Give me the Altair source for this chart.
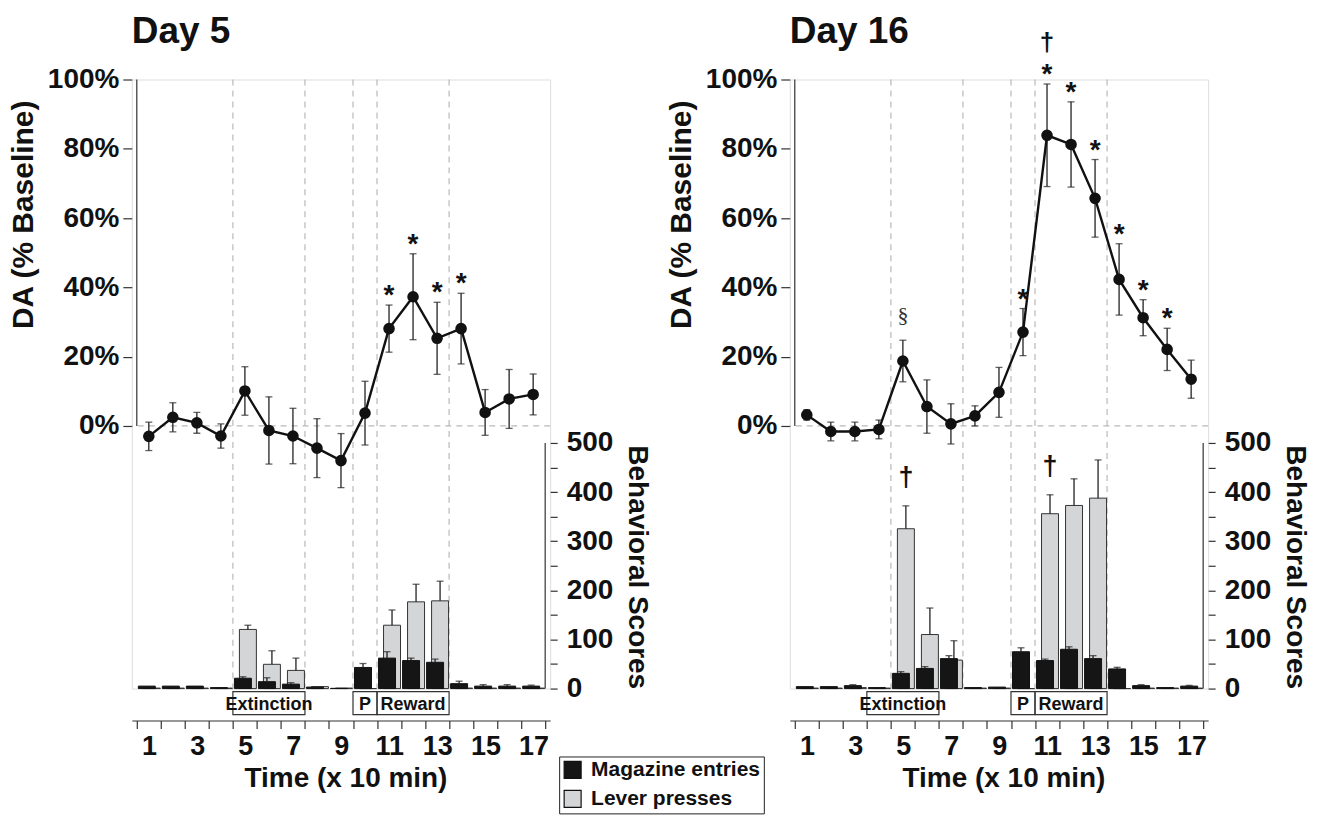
import altair as alt
import pandas as pd

FONT = "Liberation Sans"
INK = "#111111"

# ---------------- data ----------------
times = list(range(1, 18))

# DA (% baseline), mean and SEM
d5_da = [-3.0, 2.5, 0.9, -2.9, 10.1, -1.3, -2.9, -6.4, -10.0, 3.7, 28.1, 37.3, 25.3, 28.1, 3.9, 7.8, 9.1]
d5_sem = [4.1, 4.2, 3.0, 3.5, 7.0, 9.7, 8.0, 8.5, 7.8, 9.2, 6.8, 12.4, 10.4, 10.2, 6.6, 8.5, 5.9]
d16_da = [3.2, -1.6, -1.6, -1.0, 18.75, 5.6, 0.6, 2.9, 9.7, 27.1, 83.9, 81.25, 65.7, 42.3, 31.25, 22.1, 13.5]
d16_sem = [1.5, 2.7, 2.7, 2.7, 6.0, 7.7, 5.8, 2.9, 7.2, 6.8, 14.8, 12.3, 11.2, 10.3, 5.2, 6.1, 5.5]

# Behavioral scores
d5_mag = [5, 5, 5, 2, 21, 14, 9, 3, 0.5, 43, 62, 57, 53.5, 10, 5, 5, 5]
d5_mag_err = [0, 0, 0, 0, 3, 8, 3, 0, 0, 8, 13, 5, 6.5, 5, 3, 3, 2]
d5_lev = [1, 1, 1, 1, 120.4, 49.4, 37, 4, 1, 0, 129, 176.6, 178.6, 1, 1, 1, 1]
d5_lev_err = [0, 0, 0, 0, 8.6, 27.6, 25, 0, 0, 0, 31, 35.8, 40, 0, 0, 0, 0]

d16_mag = [4, 4, 6, 2, 31, 41, 61, 2, 3, 75, 57, 80, 61, 40, 6, 2, 5]
d16_mag_err = [0, 0, 2, 0, 3.5, 3.7, 6, 0, 0, 8, 3, 5, 6, 3.3, 2, 0, 1.5]
d16_lev = [1, 1, 2, 1, 325.4, 110, 58, 1, 1, 0, 356, 372.8, 387.7, 0, 1, 1, 1]
d16_lev_err = [0, 0, 0, 0, 46.6, 54, 39.4, 0, 0, 0, 38.5, 54.2, 77.8, 0, 0, 0, 0]

# significance markers
d5_star_t = [11, 12, 13, 14]
d16_star_t = [10, 11, 12, 13, 14, 15, 16]
d16_sect_t = [5]
d16_dagger_t = [11]
d16_bar_dagger_t = [5, 11]

# session phases
phase_bounds = [4.5, 7.5, 9.5, 10.5, 13.5]
box_labels = ["Extinction", "P", "Reward"]
d5_box_start = [4.5, 9.5, 10.5]
d5_box_end = [7.5, 10.5, 13.5]
d16_box_start = [3.5, 9.5, 10.5]
d16_box_end = [6.5, 10.5, 13.5]

series = ["Magazine entries", "Lever presses"]
x_ticks = [i + 0.5 for i in range(18)]
da_ticks = [0, 20, 40, 60, 80, 100]
score_ticks = list(range(0, 501, 50))

# ---------------- styling ----------------
W, H = 419, 610
XS = alt.Scale(domain=[0.5, 17.5], nice=False, zero=False)
DA_S = alt.Scale(domain=[-75.8, 100], nice=False, zero=False)
BAR_S = alt.Scale(domain=[0, 1240], nice=False)
COLOR = alt.Scale(domain=series, range=["#151515", "#d4d5d7"])

xaxis = alt.Axis(
    values=x_ticks,
    labelExpr="((datum.value + 0.5) % 2 == 1 && datum.value < 17) ? format(datum.value + 0.5, 'd') : ''",
    labelOffset=12.3, labelFlush=False, labelOverlap=False, labelBound=False,
    offset=32, tickSize=8, tickColor="#333", domainColor="#333", domainWidth=1.2, tickWidth=1.2,
    labelFontSize=27, labelPadding=5, labelFont=FONT, labelFontWeight="bold", labelColor=INK,
    title="Time (x 10 min)", titleFontSize=28, titleFont=FONT, titleFontWeight="bold", titleColor=INK,
    titleX=214, titleY=66, titleAlign="center", titleBaseline="alphabetic", grid=False,
)

yaxis = alt.Axis(
    values=da_ticks, labelExpr="datum.value + '%'", domain=False, grid=False,
    tickSize=9, tickColor="#333", tickWidth=1.2, labelPadding=4,
    labelFontSize=28, labelFont=FONT, labelFontWeight="bold", labelColor=INK,
    title="DA (% Baseline)", titleFontSize=30, titleFont=FONT, titleFontWeight="bold", titleColor=INK,
    titleAngle=270, titleX=-108, titleY=135, titleAlign="center", titleBaseline="middle",
    orient="left",
)

baxis = alt.Axis(
    values=score_ticks, labelExpr="datum.value % 100 == 0 ? datum.value : ''", domain=False, grid=False,
    tickSize=7, tickColor="#333", tickWidth=1.2, labelPadding=9,
    labelFontSize=28, labelFont=FONT, labelFontWeight="bold", labelColor=INK,
    title="Behavioral Scores", titleFontSize=28, titleFont=FONT, titleFontWeight="bold", titleColor=INK,
    titleAngle=90, titleX=86, titleY=488, titleAlign="center", titleBaseline="middle",
    orient="right",
)

legend = alt.Legend(
    title=None, orient="none", legendX=428, legendY=678,
    symbolType="square", symbolSize=289, symbolStrokeColor="#111", symbolStrokeWidth=1.2,
    labelFontSize=21, labelFontWeight="bold", labelFont=FONT, labelColor=INK, labelLimit=0,
    strokeColor="#222", fillColor="white", padding=3, rowPadding=6, labelOffset=8,
)


def X():
    return alt.X("t:Q", scale=XS, axis=xaxis)


def YD(f):
    return alt.Y(f, scale=DA_S, axis=yaxis)


def YB(f):
    return alt.Y(f, scale=BAR_S, axis=baxis)


def make_panel(title, title_dy, da, sem, mag, mag_e, lev, lev_e, star_t, sect_t, dag_t, bar_dag_t, bstart, bend):
    df = pd.DataFrame({"t": times, "m": da, "s": sem})
    df["lo"] = df["m"] - df["s"]
    df["hi"] = df["m"] + df["s"]
    one = pd.DataFrame({"k": [0]})

    vlines = alt.Chart(pd.DataFrame({"t": phase_bounds})).mark_rule(
        strokeDash=[6, 5], color="#b9b9b9", strokeWidth=1.2
    ).encode(x=X())
    zero = alt.Chart(one).mark_rule(strokeDash=[6, 5], color="#b9b9b9", strokeWidth=1.2).encode(
        y=alt.YDatum(da_ticks[0], scale=DA_S, axis=yaxis)
    )
    yline = alt.Chart(one).mark_rule(color="#333", strokeWidth=1.2).encode(
        x=alt.XDatum(x_ticks[0], scale=XS, axis=xaxis),
        y=alt.YDatum(da_ticks[0], scale=DA_S, axis=yaxis),
        y2=alt.Y2Datum(da_ticks[-1]),
    )
    base = alt.Chart(df)
    err = base.mark_rule(color="#222", strokeWidth=1.3).encode(x=X(), y=YD("lo:Q"), y2="hi:Q")
    cap_hi = base.mark_tick(orient="horizontal", size=7, thickness=1.3, color="#222").encode(x=X(), y=YD("hi:Q"))
    cap_lo = base.mark_tick(orient="horizontal", size=7, thickness=1.3, color="#222").encode(x=X(), y=YD("lo:Q"))
    line = base.mark_line(color=INK, strokeWidth=2.4).encode(x=X(), y=YD("m:Q"))
    pts = base.mark_circle(size=135, color=INK, opacity=1).encode(x=X(), y=YD("m:Q"))

    stars = base.transform_filter(alt.FieldOneOfPredicate(field="t", oneOf=star_t)).mark_text(
        text="*", fontSize=28, fontWeight="bold", font=FONT, color=INK, baseline="alphabetic", dy=-1
    ).encode(x=X(), y=YD("hi:Q"))
    layers = [vlines, zero, yline, err, cap_hi, cap_lo, line, pts, stars]
    if sect_t:
        layers.append(base.transform_filter(alt.FieldOneOfPredicate(field="t", oneOf=sect_t)).mark_text(
            text="§", fontSize=22, font="Liberation Serif", color="#333", baseline="alphabetic", dy=-18
        ).encode(x=X(), y=YD("hi:Q")))
    if dag_t:
        layers.append(base.transform_filter(alt.FieldOneOfPredicate(field="t", oneOf=dag_t)).mark_text(
            text="†", fontSize=26, fontWeight="bold", font=FONT, color=INK, baseline="alphabetic", dy=-33
        ).encode(x=X(), y=YD("hi:Q")))

    boxes_df = pd.DataFrame({"a": bstart, "b": bend, "lab": box_labels})
    boxes = alt.Chart(boxes_df).mark_rect(fillOpacity=0, stroke="#333", strokeWidth=1.2).encode(
        x=alt.X("a:Q", scale=XS, axis=xaxis), x2="b:Q", y=alt.value(H + 3), y2=alt.value(H + 26)
    )
    box_txt = alt.Chart(boxes_df).transform_calculate(c="(datum.a + datum.b) / 2").mark_text(
        fontSize=18, fontWeight="bold", font=FONT, color=INK, baseline="alphabetic"
    ).encode(x=alt.X("c:Q", scale=XS, axis=xaxis), y=alt.value(H + 21), text="lab:N")
    layers += [boxes, box_txt]

    da_layer = alt.layer(*layers)

    bdf = pd.DataFrame({"t": times, "mag": mag, "mag_e": mag_e, "lev": lev, "lev_e": lev_e})
    bdf["mag_top"] = bdf["mag"] + bdf["mag_e"]
    bdf["lev_top"] = bdf["lev"] + bdf["lev_e"]
    bb = alt.Chart(bdf)
    gray = bb.transform_calculate(series="'Lever presses'").mark_bar(
        width=17, xOffset=3, stroke="#333", strokeWidth=1
    ).encode(x=X(), y=YB("lev:Q"), color=alt.Color("series:N", scale=COLOR, legend=legend))
    gray_e = bb.transform_filter("datum.lev_e > 0").mark_rule(xOffset=3, color="#222", strokeWidth=1.3).encode(
        x=X(), y=YB("lev:Q"), y2="lev_top:Q")
    gray_c = bb.transform_filter("datum.lev_e > 0").mark_tick(
        orient="horizontal", size=7, thickness=1.3, color="#222", xOffset=3).encode(x=X(), y=YB("lev_top:Q"))
    black = bb.transform_calculate(series="'Magazine entries'").mark_bar(
        width=17, xOffset=-2, stroke="#111", strokeWidth=1
    ).encode(x=X(), y=YB("mag:Q"), color=alt.Color("series:N", scale=COLOR, legend=legend))
    black_e = bb.transform_filter("datum.mag_e > 0").mark_rule(xOffset=-2, color="#222", strokeWidth=1.3).encode(
        x=X(), y=YB("mag:Q"), y2="mag_top:Q")
    black_c = bb.transform_filter("datum.mag_e > 0").mark_tick(
        orient="horizontal", size=7, thickness=1.3, color="#222", xOffset=-2).encode(x=X(), y=YB("mag_top:Q"))
    bline = alt.Chart(one).mark_rule(color="#333", strokeWidth=1.2).encode(
        x=alt.XDatum(x_ticks[-1], scale=XS, axis=xaxis),
        y=alt.YDatum(score_ticks[0], scale=BAR_S, axis=baxis),
        y2=alt.Y2Datum(score_ticks[-1]),
    )
    blayers = [gray, gray_e, gray_c, black, black_e, black_c, bline]
    if bar_dag_t:
        blayers.append(bb.transform_filter(alt.FieldOneOfPredicate(field="t", oneOf=bar_dag_t)).mark_text(
            text="†", fontSize=27, fontWeight="bold", font=FONT, color=INK, baseline="alphabetic", dy=-20, dx=3
        ).encode(x=X(), y=YB("lev_top:Q")))
    bar_layer = alt.layer(*blayers)

    return alt.layer(da_layer, bar_layer).resolve_scale(y="independent").properties(
        width=W, height=H,
        title=alt.TitleParams(title, anchor="start", frame="group", fontSize=37, font=FONT,
                              fontWeight="bold", color=INK, baseline="alphabetic", offset=20, dy=title_dy),
    )


left = make_panel("Day 5", 34, d5_da, d5_sem, d5_mag, d5_mag_err, d5_lev, d5_lev_err,
                  d5_star_t, [], [], [], d5_box_start, d5_box_end)
right = make_panel("Day 16", 70, d16_da, d16_sem, d16_mag, d16_mag_err, d16_lev, d16_lev_err,
                   d16_star_t, d16_sect_t, d16_dagger_t, d16_bar_dagger_t, d16_box_start, d16_box_end)

chart = alt.hconcat(left, right, spacing=15).properties(
    padding={"left": 0, "top": 3, "right": 0, "bottom": 0}
).configure_view(stroke=None).configure(background="white")

chart.save("out.html", embed_options={"renderer": "svg", "actions": False})
